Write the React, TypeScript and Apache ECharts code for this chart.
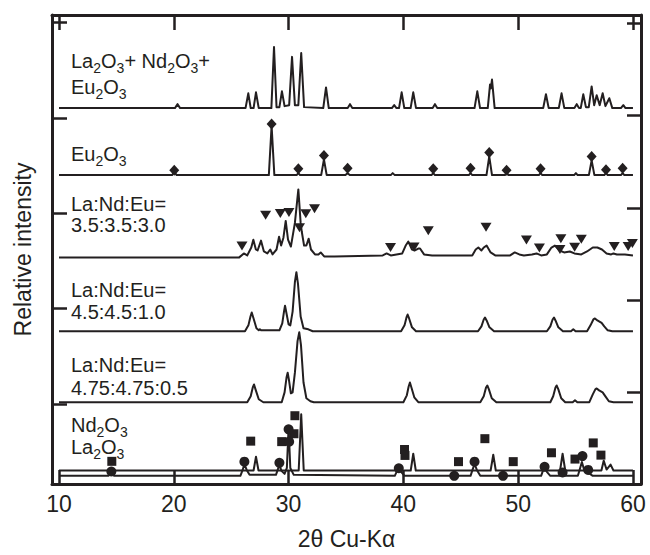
import React, { useEffect, useRef } from 'react';
import * as echarts from 'echarts';

const FONT = '"Liberation Sans", Arial, Helvetica, sans-serif';
const INK = '#231f20';

// axis ticks (2θ) and tick positions on the frame (intensity units)
const X_TICKS = [10, 20, 30, 40, 50, 60];
const LEFT_TICKS = [81, 178, 275, 371, 469];
const RIGHT_TICKS = [93, 187, 280, 374, 468];

// baseline offsets of each stacked pattern (intensity units)
const OFF_MIX = 381.5;
const OFF_EU = 313.5;
const OFF_350 = 230;
const OFF_450 = 155;
const OFF_475 = 83;
const OFF_REF_A = 13.7;
const OFF_REF_B = 8.3;

// La2O3 + Nd2O3 + Eu2O3 mixture  [2θ, intensity]
const MIX: number[][] = [
  [10, 0], [20.1, 0], [20.33, 4], [20.55, 0],
  [26.25, 0], [26.49, 15], [26.7, 0],
  [26.95, 0], [27.16, 16], [27.4, 0],
  [28.5, 0], [28.73, 62], [28.95, 1],
  [29.2, 1], [29.42, 17], [29.65, 2],
  [30.05, 3], [30.3, 52], [30.55, 3],
  [30.85, 3], [31.1, 56], [31.35, 1],
  [33.02, 0], [33.26, 21], [33.5, 0],
  [35.15, 0], [35.35, 4], [35.55, 0],
  [39.0, 0], [39.2, 3], [39.4, 0],
  [39.62, 0], [39.85, 16], [40.08, 0],
  [40.63, 0], [40.86, 16], [41.1, 0],
  [42.55, 0], [42.75, 4], [42.95, 0],
  [46.2, 0], [46.44, 17], [46.68, 0],
  [47.35, 0], [47.55, 24], [47.62, 20], [47.72, 29], [47.95, 0],
  [52.18, 0], [52.42, 14], [52.66, 0],
  [53.54, 0], [53.78, 15], [54.02, 0],
  [54.9, 0], [55.1, 4], [55.3, 0],
  [55.45, 0], [55.67, 14], [55.9, 1],
  [56.15, 1], [56.4, 22], [56.62, 3],
  [56.84, 13], [57.1, 3],
  [57.36, 15], [57.6, 2],
  [57.94, 10], [58.2, 0],
  [58.95, 0], [59.16, 3], [59.35, 0],
  [60, 0],
];

// Eu2O3
const EU: number[][] = [
  [10, 0], [19.85, 0], [20.04, 3], [20.25, 0],
  [28.28, 0], [28.52, 50], [28.76, 0],
  [30.7, 0], [30.85, 2], [31.0, 0],
  [32.84, 0], [33.08, 16], [33.32, 0],
  [34.95, 0], [35.14, 2], [35.33, 0],
  [38.9, 0], [39.07, 2], [39.25, 0],
  [42.45, 0], [42.6, 2], [42.75, 0],
  [45.7, 0], [45.85, 2], [46.0, 0],
  [47.24, 0], [47.48, 19], [47.72, 0],
  [48.85, 0], [49.0, 2], [49.15, 0],
  [51.8, 0], [51.95, 2], [52.1, 0],
  [54.88, 0], [55.03, 2], [55.18, 0],
  [56.16, 0], [56.4, 15], [56.64, 0],
  [57.5, 0], [57.65, 2], [57.8, 0],
  [58.95, 0], [59.1, 2], [59.25, 0],
  [60, 0],
];
const EU_MARKS: number[][] = [
  [20.04, 5], [28.52, 52], [30.85, 6.5], [33.08, 20], [35.14, 7], [42.6, 6.5],
  [45.85, 7], [47.48, 23], [48.99, 5], [51.95, 6.5], [56.4, 19], [57.65, 5.5], [59.1, 7],
];

// La:Nd:Eu = 3.5:3.5:3.0
const R350: number[][] = [
  [10, 0], [25.7, 0], [26.1, 4], [26.4, 2],
  [26.75, 10], [26.93, 18], [27.15, 8], [27.3, 7],
  [27.6, 17], [27.85, 6], [28.15, 4], [28.4, 8], [28.6, 3],
  [28.95, 8], [29.17, 21], [29.35, 12],
  [29.55, 20], [29.75, 37], [29.95, 18], [30.2, 11],
  [30.55, 35], [30.85, 69], [31.05, 35], [31.15, 26], [31.35, 12],
  [31.55, 12], [31.75, 19], [31.95, 8], [32.3, 3],
  [32.6, 3], [32.8, 5], [33.1, 1], [34, 1],
  [38.2, 2], [38.54, 4], [38.9, 2],
  [39.9, 4], [40.2, 12], [40.43, 16], [40.75, 8], [41.0, 7], [41.3, 9], [41.45, 9], [41.8, 3], [42.5, 2],
  [46.0, 2], [46.3, 8], [46.53, 10], [46.8, 7], [47.0, 10], [47.25, 12], [47.6, 5], [48.0, 2],
  [49.3, 2], [49.7, 5], [50.1, 3], [50.5, 2],
  [51.2, 3], [51.6, 4], [52.0, 2], [52.5, 3],
  [52.9, 10], [53.2, 12], [53.6, 7], [54.0, 5],
  [54.5, 6], [54.9, 4], [55.5, 3],
  [56.0, 6], [56.5, 10], [56.9, 10], [57.3, 8], [57.7, 4], [58.1, 3], [58.3, 4], [58.6, 3], [59.3, 3], [60, 2],
];
const R350_MARKS: number[][] = [
  [25.94, 11.5], [28.0, 42.7], [29.28, 44.5], [30.03, 45.5], [30.95, 30], [31.5, 44.4],
  [32.26, 49.4], [38.88, 10], [40.93, 10.5], [42.17, 27], [47.2, 30.5], [50.72, 17.6],
  [51.85, 9.5], [53.72, 19], [53.64, 8], [54.92, 10.4], [55.5, 18.5], [58.37, 11],
  [59.58, 11], [59.95, 14],
];

// La:Nd:Eu = 4.5:4.5:1.0
const R450: number[][] = [
  [10, 0], [26.2, 0], [26.5, 6], [26.68, 15], [26.79, 19], [26.95, 13], [27.2, 3], [27.4, 1], [27.5, 2], [27.6, 1],
  [29.2, 1], [29.45, 8], [29.6, 20], [29.69, 26], [29.82, 18], [30.0, 7], [30.15, 6],
  [30.35, 20], [30.55, 50], [30.68, 60], [30.82, 48], [31.05, 15], [31.3, 3], [31.72, 2], [32.1, 0],
  [39.8, 0], [40.1, 6], [40.27, 14], [40.37, 17], [40.5, 13], [40.75, 4], [41.1, 0],
  [46.5, 0], [46.8, 5], [47.0, 12], [47.11, 14], [47.25, 11], [47.5, 4], [47.9, 0],
  [52.5, 0], [52.8, 5], [53.0, 12], [53.12, 14], [53.25, 11], [53.5, 4], [53.9, 0],
  [54.6, 0], [54.8, 2], [55.0, 0],
  [56.0, 0], [56.3, 6], [56.55, 12], [56.69, 13], [56.9, 11], [57.27, 8.5], [57.5, 5], [57.8, 1], [58.2, 0],
  [60, 0],
];

// La:Nd:Eu = 4.75:4.75:0.5
const R475: number[][] = [
  [10, 0], [26.4, 0], [26.7, 6], [26.88, 15], [26.99, 18], [27.12, 13], [27.4, 3], [27.8, 0],
  [29.4, 0], [29.65, 10], [29.82, 25], [29.92, 30], [30.04, 22], [30.2, 9], [30.35, 10],
  [30.55, 30], [30.78, 62], [30.93, 71], [31.08, 58], [31.3, 20], [31.55, 4], [31.9, 1], [32.2, 0],
  [40.0, 0], [40.3, 7], [40.46, 16], [40.57, 20], [40.7, 15], [40.95, 5], [41.3, 0],
  [46.7, 0], [47.0, 6], [47.2, 15], [47.31, 17], [47.45, 13], [47.7, 4], [48.1, 0],
  [52.8, 0], [53.05, 6], [53.25, 15], [53.35, 17], [53.5, 13], [53.75, 4], [54.1, 0],
  [54.75, 0], [54.95, 2], [55.15, 0],
  [56.2, 0], [56.5, 8], [56.72, 13], [56.84, 14], [57.05, 12], [57.36, 10], [57.6, 6], [57.9, 1], [58.3, 0],
  [60, 0],
];

// reference oxides (two bottom patterns)
const REF_A: number[][] = [
  [10, 0], [26.95, 0], [27.16, 14], [27.38, 0],
  [30.88, 0], [31.1, 57], [31.32, 0],
  [40.64, 0], [40.86, 17], [41.08, 0],
  [47.6, 0], [47.83, 16], [48.05, 0],
  [53.65, 0], [53.87, 17], [54.1, 0],
  [57.25, 0], [57.45, 10], [57.7, 1], [58.05, 6], [58.3, 0],
  [60, 0],
];
const REF_B: number[][] = [
  [10, 0], [14.3, 0], [14.55, 3], [14.8, 0],
  [25.8, 0], [26.0, 6], [26.15, 12], [26.35, 6], [26.6, 1],
  [28.9, 1], [29.05, 6], [29.2, 11], [29.38, 5], [29.65, 2],
  [29.85, 8], [30.0, 49], [30.15, 8], [30.45, 1],
  [39.25, 0], [39.45, 5], [39.6, 8], [39.8, 4], [40.1, 0],
  [45.85, 0], [46.05, 7], [46.2, 12], [46.4, 6], [46.7, 0],
  [52.0, 0], [52.15, 5], [52.3, 9], [52.5, 4], [52.8, 0],
  [55.2, 0], [55.4, 8], [55.55, 14], [55.75, 6], [55.9, 6], [56.05, 8], [56.25, 2], [56.5, 0],
  [60, 0],
];
// Nd2O3 reference reflections (squares) and La2O3 (circles), relative to REF_B baseline
const ND_MARKS: number[][] = [
  [14.6, 14.7], [26.7, 35.2], [29.4, 34.7], [30.47, 42.7], [30.55, 61], [40.1, 26.7],
  [40.14, 20.7], [44.8, 14.4], [47.1, 37.7], [49.57, 14.4], [52.9, 23.4], [54.95, 17],
  [56.54, 33.4], [57.21, 21],
];
const LA_MARKS: number[][] = [
  [14.56, 4.4], [26.15, 14.4], [29.2, 13.2], [30.0, 47.2], [30.05, 34.7], [39.6, 7.7],
  [44.43, 0], [46.2, 14.4], [48.68, 0], [52.3, 9.2], [53.87, 3.4], [55.6, 20], [56.1, 6],
];

const shift = (d: number[][], off: number) => d.map(([x, y]) => [x, y + off]);

const lineSeries = (data: number[][], off: number) => ({
  type: 'line',
  data: shift(data, off),
  showSymbol: false,
  symbol: 'none',
  silent: true,
  lineStyle: { color: INK, width: 2, join: 'round', opacity: 1 },
  z: 3,
});

const markSeries = (data: number[][], off: number, symbol: string, size: any, rotate = 0) => ({
  type: 'scatter',
  data: shift(data, off),
  symbol,
  symbolSize: size,
  symbolRotate: rotate,
  silent: true,
  itemStyle: { color: INK, opacity: 1 },
  z: 5,
});

const rich = {
  s: { fontSize: 14, lineHeight: 14, padding: [14, 0, 0, 0], fontFamily: FONT, fill: INK },
};

const label = (text: string, y: number) => ({
  type: 'text',
  x: 71,
  y,
  silent: true,
  z: 10,
  style: {
    text,
    fill: INK,
    fontSize: 20,
    lineHeight: 28,
    fontFamily: FONT,
    align: 'left',
    verticalAlign: 'middle',
    rich,
  },
});

export default function App() {
  const ref = useRef<HTMLDivElement>(null);
  useEffect(() => {
    document.body.style.margin = '0';
    if (!ref.current) return;
    const chart = echarts.init(ref.current, null, { renderer: 'svg' });
    const axisLine = { show: true, onZero: false, lineStyle: { color: INK, width: 3 } };
    const tickStyle = { color: INK, width: 2.5 };
    chart.setOption({
      animation: false,
      backgroundColor: '#ffffff',
      grid: { left: 52, right: 9, top: 15, bottom: 64, containLabel: false },
      xAxis: [
        {
          type: 'value', position: 'bottom', min: 9.39, max: 60.7,
          axisLine,
          axisTick: { show: true, inside: true, length: 14, customValues: X_TICKS, lineStyle: tickStyle },
          axisLabel: { show: true, customValues: X_TICKS, fontSize: 23, color: INK, fontFamily: FONT, margin: 8 },
          splitLine: { show: false },
          name: '2θ Cu-Kα', nameLocation: 'middle', nameGap: 43,
          nameTextStyle: { fontSize: 23, color: INK, fontFamily: FONT },
        },
        {
          type: 'value', position: 'top', min: 9.39, max: 60.7,
          axisLine,
          axisTick: { show: true, inside: true, length: 15, customValues: X_TICKS, lineStyle: tickStyle },
          axisLabel: { show: false },
          splitLine: { show: false },
        },
      ],
      yAxis: [
        {
          type: 'value', position: 'left', min: 0, max: 476,
          axisLine,
          axisTick: { show: true, inside: true, length: 15, customValues: LEFT_TICKS, lineStyle: tickStyle },
          axisLabel: { show: false },
          splitLine: { show: false },
          name: 'Relative intensity', nameLocation: 'middle', nameGap: 18,
          nameTextStyle: { fontSize: 23, color: INK, fontFamily: FONT },
        },
        {
          type: 'value', position: 'right', min: 0, max: 476,
          axisLine,
          axisTick: { show: true, inside: true, length: 14, customValues: RIGHT_TICKS, lineStyle: tickStyle },
          axisLabel: { show: false },
          splitLine: { show: false },
        },
      ],
      series: [
        lineSeries(MIX, OFF_MIX),
        lineSeries(EU, OFF_EU),
        lineSeries(R350, OFF_350),
        lineSeries(R450, OFF_450),
        lineSeries(R475, OFF_475),
        lineSeries(REF_A, OFF_REF_A),
        lineSeries(REF_B, OFF_REF_B),
        markSeries(EU_MARKS, OFF_EU, 'diamond', [10, 11]),
        markSeries(R350_MARKS, OFF_350, 'triangle', [11, 9], 180),
        markSeries(ND_MARKS, OFF_REF_B, 'rect', 9),
        markSeries(LA_MARKS, OFF_REF_B, 'circle', 10),
      ],
      graphic: {
        elements: [
          label('La{s|2}O{s|3}+ Nd{s|2}O{s|3}+', 60.5),
          label('Eu{s|2}O{s|3}', 87),
          label('Eu{s|2}O{s|3}', 154),
          label('La:Nd:Eu=', 203.5),
          label('3.5:3.5:3.0', 224.7),
          label('La:Nd:Eu=', 290),
          label('4.5:4.5:1.0', 312),
          label('La:Nd:Eu=', 365),
          label('4.75:4.75:0.5', 387.7),
          label('Nd{s|2}O{s|3}', 424.5),
          label('La{s|2}O{s|3}', 447),
        ],
      },
    });
    return () => chart.dispose();
  }, []);
  return <div ref={ref} style={{ width: 650, height: 555 }} />;
}
